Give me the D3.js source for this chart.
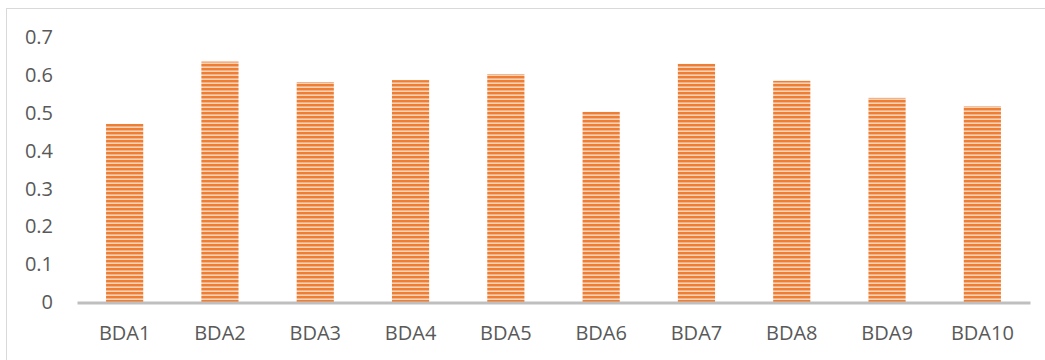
<!DOCTYPE html>
<head>
  <meta charset="utf-8">
  <script src="https://d3js.org/d3.v7.min.js"></script>
  <style>
    body { margin: 0; background: #fff; }
    text { font-family: 'Open Sans', sans-serif; fill: #595959; }
  </style>
</head>
<body>
  <div id="my_dataviz"></div>
</body>
<script>

  // chart values
  var categories = ["BDA1", "BDA2", "BDA3", "BDA4", "BDA5", "BDA6", "BDA7", "BDA8", "BDA9", "BDA10"];
  var values = [0.471, 0.636, 0.582, 0.587, 0.603, 0.503, 0.630, 0.585, 0.540, 0.518];
  var yTicks = [0, 0.1, 0.2, 0.3, 0.4, 0.5, 0.6, 0.7];

  var W = 1045, H = 360;
  var plotLeft = 77, plotRight = 1030, plotTop = 37.4, plotBottom = 302;

  var svg = d3.select("#my_dataviz")
    .append("svg")
    .attr("width", W)
    .attr("height", H);

  // striped fill like the original
  var defs = svg.append("defs");
  var pat = defs.append("pattern")
    .attr("id", "stripes")
    .attr("patternUnits", "userSpaceOnUse")
    .attr("width", 8)
    .attr("height", 4);
  pat.append("rect").attr("width", 8).attr("height", 4).attr("fill", "#EE7E33");
  pat.append("rect").attr("y", 2.4).attr("width", 8).attr("height", 1.6).attr("fill", "#F9D2B8");

  // chart frame
  svg.append("rect")
    .attr("x", 6.5).attr("y", 8.5)
    .attr("width", W + 10).attr("height", H + 10)
    .attr("fill", "none")
    .attr("stroke", "#D9D9D9")
    .attr("stroke-width", 1);

  var x = d3.scaleBand()
    .domain(categories)
    .range([plotLeft, plotRight])
    .paddingInner(0.61)
    .paddingOuter(0.305);

  var y = d3.scaleLinear()
    .domain([0, 0.7])
    .range([plotBottom, plotTop]);

  // Y axis labels only
  var yAxis = svg.append("g")
    .attr("transform", "translate(53,0)")
    .call(d3.axisLeft(y).tickValues(yTicks).tickSize(0).tickPadding(0)
      .tickFormat(function (d) { return d === 0 ? "0" : d3.format(".1f")(d); }));
  yAxis.select(".domain").remove();
  yAxis.selectAll("text").style("font-size", "20px").attr("fill", "#595959");

  // bars
  svg.selectAll("rect.bar")
    .data(values)
    .enter()
    .append("rect")
    .attr("class", "bar")
    .attr("x", function (d, i) { return x(categories[i]); })
    .attr("y", function (d) { return y(d); })
    .attr("width", x.bandwidth())
    .attr("height", function (d) { return y(0) - y(d); })
    .attr("fill", "url(#stripes)");

  // X axis
  var xAxis = svg.append("g")
    .attr("transform", "translate(0," + plotBottom + ")")
    .call(d3.axisBottom(x).tickSize(0).tickPadding(24));
  xAxis.select(".domain")
    .attr("stroke", "#BFBFBF")
    .attr("stroke-width", 3)
    .attr("transform", "translate(0,0.5)");
  xAxis.selectAll("text").style("font-size", "20px").attr("fill", "#595959");

</script>
